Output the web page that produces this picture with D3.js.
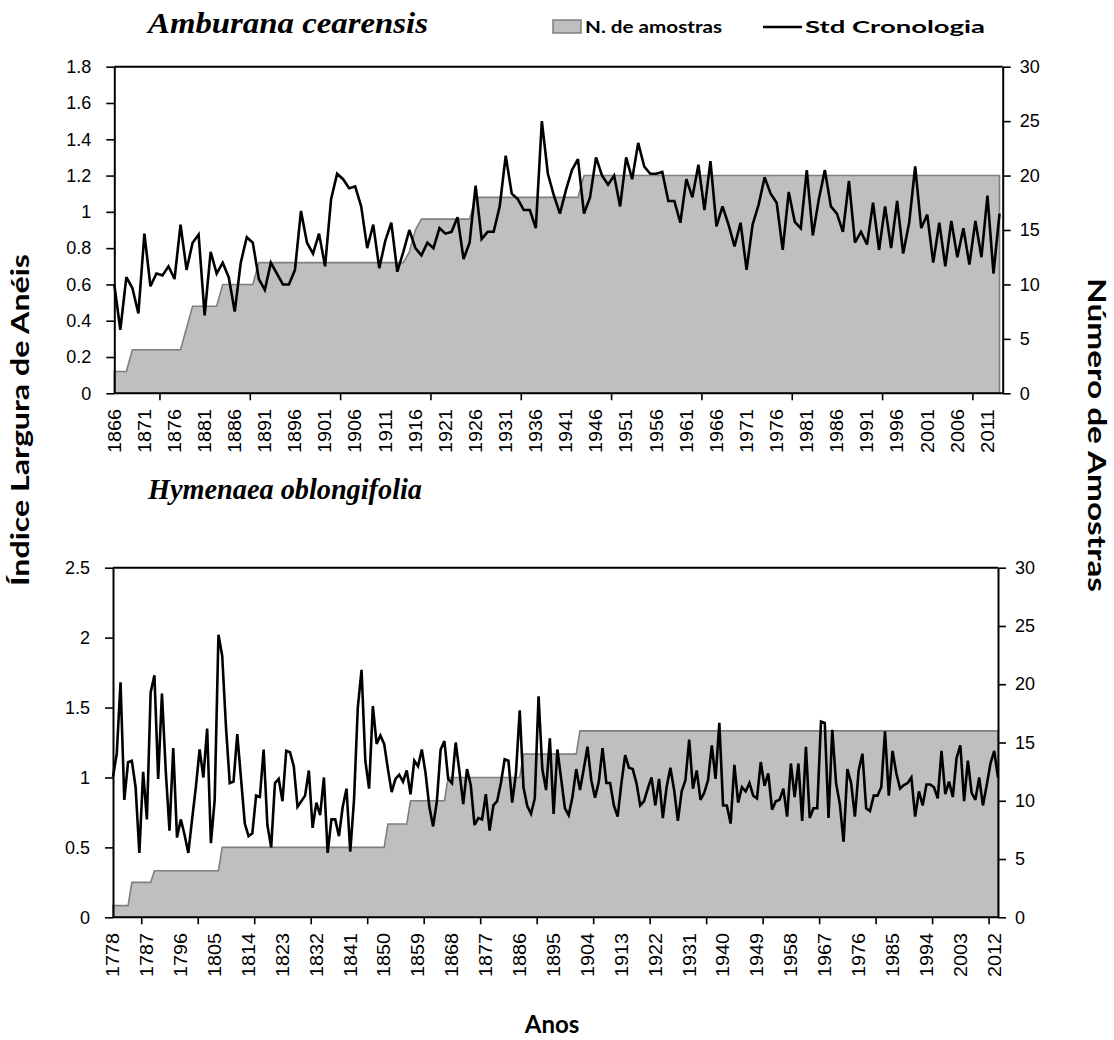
<!DOCTYPE html>
<html>
<head>
<meta charset="utf-8">
<script src="https://cdn.jsdelivr.net/npm/d3@7"></script>
<style>
  html, body { margin: 0; padding: 0; background: #fff; }
  svg { display: block; }
</style>
</head>
<body>
<svg id="chart" width="1114" height="1040"></svg>
<script>
// ---------------- DATA ----------------
// Panel 1: Amburana cearensis, years 1866..2013
const topStartYear = 1866;
const topIndex = [
  0.60,0.35,0.64,0.58,0.44,0.88,0.59,0.66,0.65,0.70,
  0.63,0.93,0.68,0.83,0.875,0.43,0.78,0.66,0.72,0.64,
  0.45,0.72,0.86,0.83,0.63,0.57,0.72,0.66,0.60,0.60,
  0.68,1.005,0.83,0.77,0.88,0.70,1.07,1.21,1.18,1.13,
  1.14,1.03,0.80,0.93,0.69,0.84,0.94,0.67,0.78,0.90,
  0.80,0.76,0.83,0.80,0.91,0.88,0.89,0.97,0.74,0.83,
  1.145,0.85,0.89,0.89,1.03,1.31,1.10,1.07,1.01,1.01,
  0.91,1.50,1.21,1.09,0.99,1.12,1.23,1.29,0.99,1.08,
  1.30,1.20,1.15,1.20,1.03,1.30,1.18,1.38,1.25,1.21,
  1.21,1.22,1.06,1.06,0.94,1.18,1.08,1.26,1.01,1.28,
  0.92,1.03,0.93,0.81,0.94,0.68,0.93,1.04,1.19,1.10,
  1.05,0.79,1.11,0.945,0.91,1.23,0.87,1.07,1.23,1.03,
  0.99,0.89,1.17,0.83,0.89,0.82,1.05,0.79,1.03,0.80,
  1.06,0.77,0.94,1.25,0.91,0.985,0.72,0.94,0.70,0.95,
  0.75,0.91,0.71,0.95,0.75,1.09,0.66,0.99
];
const topSamples = [
  2,2,2,4,4,4,4,4,4,4,
  4,4,6,8,8,8,8,8,10,10,
  10,10,10,10,12,12,12,12,12,12,
  12,12,12,12,12,12,12,12,12,12,
  12,12,12,12,12,12,12,12,12,13,
  15,16,16,16,16,16,16,16,16,16,
  18,18,18,18,18,18,18,18,18,18,
  18,18,18,18,18,18,18,18,20,20,
  20,20,20,20,20,20,20,20,20,20,
  20,20,20,20,20,20,20,20,20,20,
  20,20,20,20,20,20,20,20,20,20,
  20,20,20,20,20,20,20,20,20,20,
  20,20,20,20,20,20,20,20,20,20,
  20,20,20,20,20,20,20,20,20,20,
  20,20,20,20,20,20,20,20
];
const topTickLabels = ["1866","1871","1876","1881","1886","1891","1896","1901","1906","1911",
  "1916","1921","1926","1931","1936","1941","1946","1951","1956","1961",
  "1966","1971","1976","1981","1986","1991","1996","2001","2006","2011"];
const topLeftTicks = [0,0.2,0.4,0.6,0.8,1,1.2,1.4,1.6,1.8];
const topRightTicks = [0,5,10,15,20,25,30];

// Panel 2: Hymenaea oblongifolia, years 1778..2013
const botStartYear = 1778;
const botIndex = [
  1.005,1.17,1.68,0.84,1.11,1.12,0.93,0.46,1.04,0.70,
  1.61,1.73,0.99,1.60,1.05,0.62,1.21,0.57,0.70,0.59,
  0.46,0.70,0.93,1.20,1.00,1.35,0.53,0.84,2.02,1.87,
  1.36,0.96,0.97,1.31,0.99,0.67,0.58,0.60,0.87,0.86,
  1.20,0.66,0.50,0.96,0.99,0.83,1.19,1.18,1.08,0.79,
  0.83,0.87,1.05,0.64,0.82,0.73,1.00,0.46,0.70,0.70,
  0.58,0.79,0.92,0.47,0.84,1.50,1.77,1.12,0.92,1.51,
  1.24,1.30,1.24,1.06,0.895,0.99,1.02,0.97,1.05,0.88,
  1.12,1.08,1.20,1.03,0.79,0.65,0.83,1.20,1.26,0.99,
  0.96,1.25,1.04,0.81,1.06,0.945,0.66,0.71,0.70,0.88,
  0.62,0.80,0.83,0.96,1.13,1.12,0.82,1.03,1.48,0.93,
  0.795,0.74,0.85,1.58,1.06,0.91,1.28,0.74,1.20,0.99,
  0.78,0.73,0.86,1.06,0.91,1.06,1.22,0.98,0.855,0.97,
  1.21,0.96,0.96,0.80,0.72,0.96,1.16,1.07,1.06,0.96,
  0.80,0.83,0.92,1.00,0.80,0.99,0.71,0.93,1.07,0.91,
  0.69,0.90,0.98,1.27,0.92,1.05,0.84,0.89,0.98,1.23,
  0.99,1.39,0.80,0.80,0.67,1.09,0.82,0.93,0.90,0.96,
  0.87,0.85,1.11,0.94,1.03,0.77,0.83,0.84,0.92,0.72,
  1.10,0.86,1.10,0.69,1.22,0.71,0.78,0.78,1.40,1.39,
  0.71,1.34,0.96,0.81,0.54,1.06,0.96,0.72,1.05,1.17,
  0.78,0.76,0.87,0.87,0.93,1.33,0.87,1.19,1.03,0.92,
  0.945,0.96,1.00,0.72,0.90,0.80,0.95,0.95,0.93,0.85,
  1.19,0.88,0.97,0.86,1.14,1.23,0.83,1.12,0.89,0.84,
  1.00,0.80,0.945,1.10,1.19,1.00
];
const botSamples = [
  1,1,1,1,1,3,3,3,3,3,
  3,4,4,4,4,4,4,4,4,4,
  4,4,4,4,4,4,4,4,4,6,
  6,6,6,6,6,6,6,6,6,6,
  6,6,6,6,6,6,6,6,6,6,
  6,6,6,6,6,6,6,6,6,6,
  6,6,6,6,6,6,6,6,6,6,
  6,6,6,8,8,8,8,8,8,10,
  10,10,10,10,10,10,10,10,10,12,
  12,12,12,12,12,12,12,12,12,12,
  12,12,12,12,12,12,12,12,12,14,
  14,14,14,14,14,14,14,14,14,14,
  14,14,14,14,16,16,16,16,16,16,
  16,16,16,16,16,16,16,16,16,16,
  16,16,16,16,16,16,16,16,16,16,
  16,16,16,16,16,16,16,16,16,16,
  16,16,16,16,16,16,16,16,16,16,
  16,16,16,16,16,16,16,16,16,16,
  16,16,16,16,16,16,16,16,16,16,
  16,16,16,16,16,16,16,16,16,16,
  16,16,16,16,16,16,16,16,16,16,
  16,16,16,16,16,16,16,16,16,16,
  16,16,16,16,16,16,16,16,16,16,
  16,16,16,16,16,16
];
const botTickLabels = ["1778","1787","1796","1805","1814","1823","1832","1841","1850","1859",
  "1868","1877","1886","1895","1904","1913","1922","1931","1940","1949",
  "1958","1967","1976","1985","1994","2003","2012"];
const botLeftTicks = [0,0.5,1,1.5,2,2.5];
const botRightTicks = [0,5,10,15,20,25,30];

// ---------------- DRAW ----------------
const svg = d3.select("#chart");
const TICK_FONT = "'Liberation Sans', Arial, sans-serif";
const TITLE_FONT = "Lato, 'Open Sans', sans-serif";
const AREA_FILL = "#bfbfbf";
const AREA_STROKE = "#7f7f7f";

function drawPanel(p) {
  const years = p.index.map((_, i) => p.startYear + i);
  const x = d3.scaleLinear().domain([years[0], years[years.length - 1]]).range([p.x0, p.xEnd]);
  const yL = d3.scaleLinear().domain([0, p.leftMax]).range([p.yBottom, p.yTop]);
  const yR = d3.scaleLinear().domain([0, 30]).range([p.yBottom, p.yTop]);
  const g = svg.append("g");

  const pts = years.map((yr, i) => ({ yr, v: p.index[i], n: p.samples[i] }));

  // area: sample depth
  g.append("path")
    .datum(pts)
    .attr("d", d3.area().x(d => x(d.yr)).y0(yR(0)).y1(d => yR(d.n)))
    .attr("fill", AREA_FILL)
    .attr("stroke", AREA_STROKE)
    .attr("stroke-width", 1.6)
    .attr("stroke-linejoin", "miter");

  // chronology line
  g.append("path")
    .datum(pts)
    .attr("d", d3.line().x(d => x(d.yr)).y(d => yL(d.v)))
    .attr("fill", "none")
    .attr("stroke", "#000")
    .attr("stroke-width", 2.6)
    .attr("stroke-linejoin", "miter")
    .attr("stroke-miterlimit", 3);

  // top border
  g.append("line")
    .attr("x1", p.x0).attr("x2", p.xRight)
    .attr("y1", p.yTop).attr("y2", p.yTop)
    .attr("stroke", "#000").attr("stroke-width", 2);

  // left axis
  const left = g.append("g").attr("transform", `translate(${p.x0},0)`)
    .call(d3.axisLeft(yL).tickValues(p.leftTicks).tickSize(8).tickSizeOuter(0).tickPadding(15)
      .tickFormat(d => String(+d.toFixed(1))));
  // right axis
  const right = g.append("g").attr("transform", `translate(${p.xRight},0)`)
    .call(d3.axisRight(yR).tickValues(p.rightTicks).tickSize(8).tickSizeOuter(0).tickPadding(p.rightPad)
      .tickFormat(d3.format("d")));
  // bottom axis (tick marks only)
  const tickYears = d3.range(p.startYear + 7.5, years[years.length - 1], 15);
  const bottom = g.append("g").attr("transform", `translate(0,${p.yBottom})`)
    .call(d3.axisBottom(x).tickValues(tickYears).tickSize(7).tickSizeOuter(0).tickFormat(""));
  bottom.select(".domain").attr("d", `M${p.x0},0H${p.xRight}`);

  [left, right, bottom].forEach(a => {
    a.select(".domain").attr("stroke", "#000").attr("stroke-width", 2);
    a.selectAll(".tick line").attr("stroke", "#000").attr("stroke-width", 1.6);
    a.selectAll(".tick text").attr("fill", "#000")
      .style("font-family", TICK_FONT).style("font-size", "18px");
  });

  // rotated year labels
  g.append("g").selectAll("text")
    .data(p.tickLabels)
    .join("text")
    .attr("transform", d => `translate(${x(+d)},${p.labelTop}) rotate(-90)`)
    .attr("text-anchor", "end")
    .attr("dy", "0.35em")
    .attr("textLength", 44)
    .attr("lengthAdjust", "spacingAndGlyphs")
    .style("font-family", TICK_FONT)
    .style("font-size", "18px")
    .attr("fill", "#000")
    .text(d => d);

  // title
  svg.append("text")
    .attr("x", p.titleX).attr("y", p.titleY)
    .attr("textLength", p.titleLen)
    .attr("lengthAdjust", "spacingAndGlyphs")
    .style("font-family", "'Liberation Serif', 'Times New Roman', serif")
    .style("font-style", "italic").style("font-weight", "bold")
    .style("font-size", "30px")
    .attr("fill", "#000")
    .text(p.title);
}

drawPanel({
  startYear: topStartYear, index: topIndex, samples: topSamples,
  tickLabels: topTickLabels, leftTicks: topLeftTicks, rightTicks: topRightTicks,
  leftMax: 1.8, x0: 114.3, xEnd: 999.5, xRight: 1002.7, yTop: 66.7, yBottom: 393.3,
  rightPad: 9, labelTop: 409, title: "Amburana cearensis", titleX: 148, titleY: 33, titleLen: 280
});
drawPanel({
  startYear: botStartYear, index: botIndex, samples: botSamples,
  tickLabels: botTickLabels, leftTicks: botLeftTicks, rightTicks: botRightTicks,
  leftMax: 2.5, x0: 113, xEnd: 998, xRight: 998, yTop: 567.7, yBottom: 917.3,
  rightPad: 9, labelTop: 933, title: "Hymenaea oblongifolia", titleX: 148, titleY: 499, titleLen: 274
});

// legend
const lg = svg.append("g");
lg.append("rect").attr("x", 553).attr("y", 20).attr("width", 28).attr("height", 13)
  .attr("fill", AREA_FILL).attr("stroke", AREA_STROKE).attr("stroke-width", 1.5);
lg.append("text").attr("x", 585).attr("y", 33)
  .attr("textLength", 137).attr("lengthAdjust", "spacingAndGlyphs")
  .style("font-family", TITLE_FONT).style("font-weight", "bold").style("font-size", "17px")
  .attr("fill", "#000").text("N. de amostras");
lg.append("line").attr("x1", 763).attr("x2", 802).attr("y1", 27).attr("y2", 27)
  .attr("stroke", "#000").attr("stroke-width", 2.5);
lg.append("text").attr("x", 805).attr("y", 33)
  .attr("textLength", 180).attr("lengthAdjust", "spacingAndGlyphs")
  .style("font-family", TITLE_FONT).style("font-weight", "bold").style("font-size", "17px")
  .attr("fill", "#000").text("Std Cronologia");

// axis titles
svg.append("text")
  .attr("transform", "translate(29,420) rotate(-90)")
  .attr("text-anchor", "middle")
  .attr("textLength", 332).attr("lengthAdjust", "spacingAndGlyphs")
  .style("font-family", TITLE_FONT).style("font-weight", "bold").style("font-size", "25px")
  .attr("fill", "#000").text("Índice Largura de Anéis");
svg.append("text")
  .attr("transform", "translate(1088,435) rotate(90)")
  .attr("text-anchor", "middle")
  .attr("textLength", 314).attr("lengthAdjust", "spacingAndGlyphs")
  .style("font-family", TITLE_FONT).style("font-weight", "bold").style("font-size", "25px")
  .attr("fill", "#000").text("Número de Amostras");
svg.append("text")
  .attr("x", 552).attr("y", 1033)
  .attr("text-anchor", "middle")
  .style("font-family", TITLE_FONT).style("font-weight", "bold").style("font-size", "24px")
  .attr("fill", "#000").text("Anos");
</script>
</body>
</html>
